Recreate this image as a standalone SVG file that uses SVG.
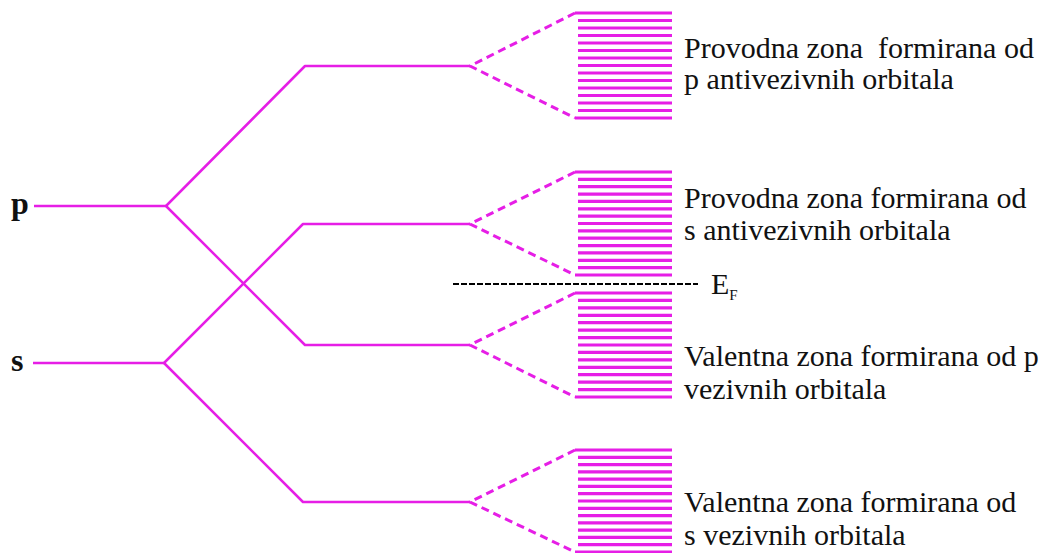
<svg xmlns="http://www.w3.org/2000/svg" width="1043" height="553" viewBox="0 0 1043 553">
<style>
.lvl{stroke:#E61EE6;stroke-width:2.5;fill:none;stroke-linejoin:round}
.dash{stroke:#E61EE6;stroke-width:3;fill:none;stroke-dasharray:8 5}
.band line{stroke:#E61EE6;stroke-width:3.2}
.ef{stroke:#000;stroke-width:2;stroke-dasharray:6 2}
text{font-family:"Liberation Serif",serif;fill:#111}
.lbl{font-size:30px}
.orb{font-size:32px;font-weight:bold}
.sub{font-size:15px}
</style>
<rect width="1043" height="553" fill="#fff"/>
<g id="atomic-p">
<text class="orb" x="11" y="214" font-family="Liberation Serif, serif">p</text>
<line class="lvl" x1="34" y1="206" x2="166" y2="206"/>
</g>
<g id="atomic-s">
<text class="orb" x="11" y="371" font-family="Liberation Serif, serif">s</text>
<line class="lvl" x1="33" y1="363" x2="164" y2="363"/>
</g>
<g id="connectors">
<polyline class="lvl" points="166,206 305,66 470,66"/>
<polyline class="lvl" points="166,206 305,345 470,345"/>
<polyline class="lvl" points="164,363 303,224 470,224"/>
<polyline class="lvl" points="164,363 303,502 470,502"/>
<polyline class="dash" points="575,13 470,66 575,118"/>
<polyline class="dash" points="575,172 470,224 575,275"/>
<polyline class="dash" points="575,293 470,345 575,397"/>
<polyline class="dash" points="575,450 470,502 575,552"/>
</g>
<g id="band-p-anti" class="band">
<line x1="575" y1="13" x2="672" y2="13"/><line x1="578" y1="20.5" x2="672" y2="20.5"/><line x1="578" y1="28" x2="672" y2="28"/><line x1="578" y1="35.5" x2="672" y2="35.5"/><line x1="578" y1="43" x2="672" y2="43"/><line x1="578" y1="50.5" x2="672" y2="50.5"/><line x1="578" y1="58" x2="672" y2="58"/><line x1="578" y1="65.5" x2="672" y2="65.5"/><line x1="578" y1="73" x2="672" y2="73"/><line x1="578" y1="80.5" x2="672" y2="80.5"/><line x1="578" y1="88" x2="672" y2="88"/><line x1="578" y1="95.5" x2="672" y2="95.5"/><line x1="578" y1="103" x2="672" y2="103"/><line x1="578" y1="110.5" x2="672" y2="110.5"/><line x1="575" y1="118" x2="672" y2="118"/>
</g>
<g id="band-s-anti" class="band">
<line x1="575" y1="172" x2="672" y2="172"/><line x1="578" y1="179.4" x2="672" y2="179.4"/><line x1="578" y1="186.7" x2="672" y2="186.7"/><line x1="578" y1="194.1" x2="672" y2="194.1"/><line x1="578" y1="201.4" x2="672" y2="201.4"/><line x1="578" y1="208.8" x2="672" y2="208.8"/><line x1="578" y1="216.1" x2="672" y2="216.1"/><line x1="578" y1="223.5" x2="672" y2="223.5"/><line x1="578" y1="230.9" x2="672" y2="230.9"/><line x1="578" y1="238.2" x2="672" y2="238.2"/><line x1="578" y1="245.6" x2="672" y2="245.6"/><line x1="578" y1="252.9" x2="672" y2="252.9"/><line x1="578" y1="260.3" x2="672" y2="260.3"/><line x1="578" y1="267.6" x2="672" y2="267.6"/><line x1="575" y1="275" x2="672" y2="275"/>
</g>
<g id="band-p-bond" class="band">
<line x1="575" y1="293" x2="672" y2="293"/><line x1="578" y1="300.4" x2="672" y2="300.4"/><line x1="578" y1="307.9" x2="672" y2="307.9"/><line x1="578" y1="315.3" x2="672" y2="315.3"/><line x1="578" y1="322.7" x2="672" y2="322.7"/><line x1="578" y1="330.1" x2="672" y2="330.1"/><line x1="578" y1="337.6" x2="672" y2="337.6"/><line x1="578" y1="345" x2="672" y2="345"/><line x1="578" y1="352.4" x2="672" y2="352.4"/><line x1="578" y1="359.9" x2="672" y2="359.9"/><line x1="578" y1="367.3" x2="672" y2="367.3"/><line x1="578" y1="374.7" x2="672" y2="374.7"/><line x1="578" y1="382.1" x2="672" y2="382.1"/><line x1="578" y1="389.6" x2="672" y2="389.6"/><line x1="575" y1="397" x2="672" y2="397"/>
</g>
<g id="band-s-bond" class="band">
<line x1="575" y1="450" x2="672" y2="450"/><line x1="578" y1="457.3" x2="672" y2="457.3"/><line x1="578" y1="464.6" x2="672" y2="464.6"/><line x1="578" y1="471.9" x2="672" y2="471.9"/><line x1="578" y1="479.1" x2="672" y2="479.1"/><line x1="578" y1="486.4" x2="672" y2="486.4"/><line x1="578" y1="493.7" x2="672" y2="493.7"/><line x1="578" y1="501" x2="672" y2="501"/><line x1="578" y1="508.3" x2="672" y2="508.3"/><line x1="578" y1="515.6" x2="672" y2="515.6"/><line x1="578" y1="522.9" x2="672" y2="522.9"/><line x1="578" y1="530.1" x2="672" y2="530.1"/><line x1="578" y1="537.4" x2="672" y2="537.4"/><line x1="578" y1="544.7" x2="672" y2="544.7"/><line x1="575" y1="552" x2="672" y2="552"/>
</g>
<g id="fermi-level">
<line class="ef" x1="453" y1="284" x2="698" y2="284"/>
<text class="lbl" x="711" y="294" font-family="Liberation Serif, serif">E<tspan class="sub" dy="6">F</tspan></text>
</g>
<g id="label-p-anti" font-family="Liberation Serif, serif">
<text class="lbl" x="684" y="58" xml:space="preserve">Provodna zona  formirana od</text>
<text class="lbl" x="684" y="89">p antivezivnih orbitala</text>
</g>
<g id="label-s-anti">
<text class="lbl" x="684" y="208">Provodna zona formirana od</text>
<text class="lbl" x="684" y="240">s antivezivnih orbitala</text>
</g>
<g id="label-p-bond">
<text class="lbl" x="684" y="366">Valentna zona formirana od p</text>
<text class="lbl" x="684" y="399">vezivnih orbitala</text>
</g>
<g id="label-s-bond">
<text class="lbl" x="684" y="512">Valentna zona formirana od</text>
<text class="lbl" x="684" y="545">s vezivnih orbitala</text>
</g>
</svg>
